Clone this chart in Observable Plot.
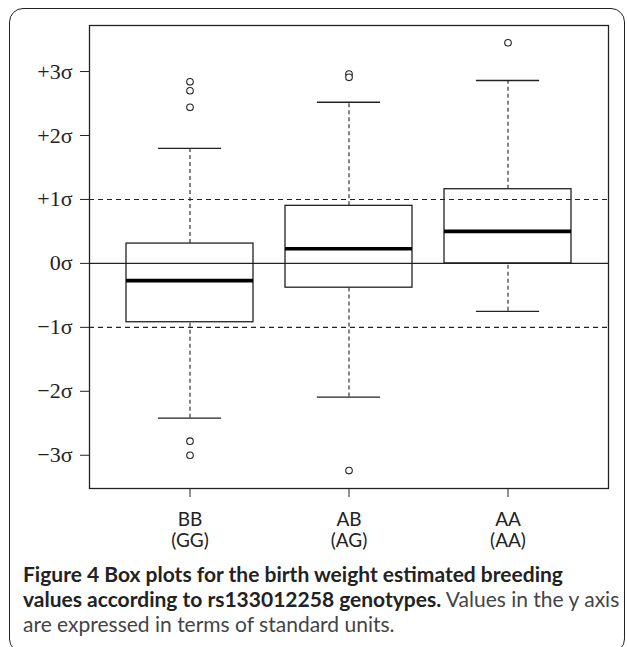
<!DOCTYPE html>
<html>
<head>
<meta charset="utf-8">
<script src="https://cdn.jsdelivr.net/npm/d3@7"></script>
<script src="https://cdn.jsdelivr.net/npm/@observablehq/plot@0.6"></script>
<style>
  html, body { margin: 0; padding: 0; background: #fff; }
  body { width: 627px; height: 647px; position: relative; overflow: hidden; }
  #border { position: absolute; left: 9px; top: 8px; width: 616px; height: 645px;
            border: 1.5px solid #222; border-radius: 14px; box-sizing: border-box; }
  #chart { position: absolute; left: 0; top: 0; }
  #caption { position: absolute; left: 23px; top: 561px; font-family: Lato, "Open Sans", sans-serif;
             font-size: 21px; line-height: 25px; color: #222; white-space: nowrap; }
  #caption b { font-weight: 700; }
  #caption span.reg { color: #444; }
</style>
</head>
<body>
<div id="border"></div>
<div id="chart"></div>
<div id="caption"></div>
<script>
// ---- data ----
const genotypes = ["BB", "AB", "AA"];
const alleles = ["(GG)", "(AG)", "(AA)"];
const lowerWhisker = [-2.42, -2.09, -0.75];
const q1 = [-0.92, -0.38, 0.0];
const median = [-0.27, 0.23, 0.50];
const q3 = [0.31, 0.90, 1.16];
const upperWhisker = [1.80, 2.52, 2.86];
const outlierGroup = ["BB", "BB", "BB", "BB", "BB", "AB", "AB", "AB", "AA"];
const outlierValue = [2.84, 2.70, 2.44, -2.78, -3.00, 2.96, 2.91, -3.24, 3.45];
const yTicks = [-3, -2, -1, 0, 1, 2, 3];
const yTickLabels = ["\u22123\u03c3", "\u22122\u03c3", "\u22121\u03c3", "0\u03c3", "+1\u03c3", "+2\u03c3", "+3\u03c3"];
const dashedRefs = [-1, 1];
const solidRefs = [0];
const captionBold1 = "Figure 4 Box plots for the birth weight estimated breeding";
const captionBold2 = "values according to rs133012258 genotypes.";
const captionReg2 = " Values in the y axis";
const captionReg3 = "are expressed in terms of standard units.";

// ---- tables ----
const boxes = genotypes.map((g, i) => ({
  g, lo: lowerWhisker[i], q1: q1[i], med: median[i], q3: q3[i], hi: upperWhisker[i]
}));
const outliers = outlierGroup.map((g, i) => ({ g, v: outlierValue[i] }));

const W = 627, H = 555;
const mL = 89, mR = 19, mT = 25, mB = H - 488;
const innerW = W - mL - mR;
const padInner = 0.2, padOuter = 0.227;
const step = innerW / (genotypes.length - padInner + 2 * padOuter);
const bw = step * (1 - padInner);
const capInset = bw / 4;

const serif = "'Liberation Serif', 'DejaVu Serif', serif";
const sans = "Lato, 'Open Sans', sans-serif";

const chart = Plot.plot({
  width: W, height: H,
  marginLeft: mL, marginRight: mR, marginTop: mT, marginBottom: mB,
  style: { background: "transparent", color: "#222" },
  x: { type: "band", domain: genotypes, paddingInner: padInner, paddingOuter: padOuter, align: 0.5 },
  y: { domain: [-3.52, 3.72] },
  marks: [
    Plot.ruleY(dashedRefs, { stroke: "#222", strokeWidth: 1.1, strokeDasharray: "5,4" }),
    Plot.ruleY(solidRefs, { stroke: "#222", strokeWidth: 1.1 }),
    Plot.ruleX(boxes, { x: "g", y1: "q3", y2: "hi", stroke: "#222", strokeWidth: 1.1, strokeDasharray: "4,3" }),
    Plot.ruleX(boxes, { x: "g", y1: "lo", y2: "q1", stroke: "#222", strokeWidth: 1.1, strokeDasharray: "4,3" }),
    Plot.tickY(boxes, { x: "g", y: "hi", stroke: "#222", strokeWidth: 1.3, insetLeft: capInset, insetRight: capInset }),
    Plot.tickY(boxes, { x: "g", y: "lo", stroke: "#222", strokeWidth: 1.3, insetLeft: capInset, insetRight: capInset }),
    Plot.barY(boxes, { x: "g", y1: "q1", y2: "q3", fill: "none", stroke: "#222", strokeWidth: 1.3 }),
    Plot.tickY(boxes, { x: "g", y: "med", stroke: "#000", strokeWidth: 3.6 }),
    Plot.dot(outliers, { x: "g", y: "v", r: 3.3, stroke: "#222", strokeWidth: 1.1, fill: "white" }),
    Plot.frame({ stroke: "#222", strokeWidth: 1.3 }),
    Plot.axisY({
      ticks: yTicks, tickSize: 9, tickPadding: 8, label: null,
      tickFormat: d => yTickLabels[yTicks.indexOf(d)],
      fontFamily: serif, fontSize: 22, stroke: "#222"
    }),
    Plot.axisX({
      tickSize: 9, tickPadding: 13, label: null, lineHeight: 1.12,
      tickFormat: d => d + "\n" + alleles[genotypes.indexOf(d)],
      fontFamily: sans, fontSize: 19, stroke: "#222"
    })
  ]
});
document.getElementById("chart").appendChild(chart);

const cap = document.getElementById("caption");
cap.innerHTML = "";
const l1 = document.createElement("div");
const b1 = document.createElement("b"); b1.textContent = captionBold1; l1.appendChild(b1);
const l2 = document.createElement("div");
const b2 = document.createElement("b"); b2.textContent = captionBold2; l2.appendChild(b2);
const r2 = document.createElement("span"); r2.className = "reg"; r2.textContent = captionReg2; l2.appendChild(r2);
const l3 = document.createElement("div");
const r3 = document.createElement("span"); r3.className = "reg"; r3.textContent = captionReg3; l3.appendChild(r3);
cap.append(l1, l2, l3);
</script>
</body>
</html>
